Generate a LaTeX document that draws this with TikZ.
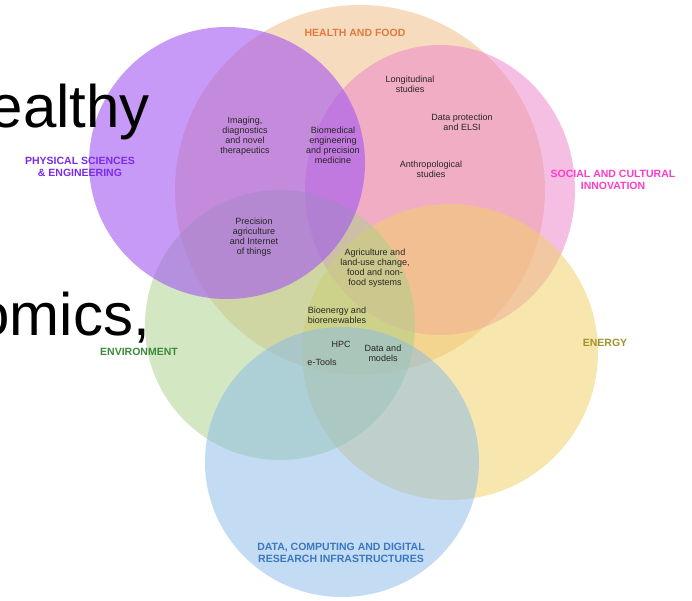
\documentclass[tikz,border=0pt]{standalone}
\usepackage{fontspec}
\setmainfont{Liberation Sans}

\definecolor{healthfill}{RGB}{241,185,129}
\definecolor{socialfill}{RGB}{237,129,201}
\definecolor{energyfill}{RGB}{241,209,97}
\definecolor{envfill}{RGB}{169,209,137}
\definecolor{datafill}{RGB}{137,185,233}
\definecolor{physfill}{RGB}{162,87,242}

\definecolor{healthtext}{RGB}{224,122,60}
\definecolor{socialtext}{RGB}{255,60,200}
\definecolor{energytext}{RGB}{160,146,40}
\definecolor{envtext}{RGB}{58,138,58}
\definecolor{datatext}{RGB}{58,120,192}
\definecolor{phystext}{RGB}{123,43,232}

\tikzset{
  area/.style={fill=#1, fill opacity=0.5},
  topic/.style={font=\fontsize{10.5}{11.5}\selectfont\bfseries, align=center, inner sep=0pt},
  theme/.style={font=\fontsize{9}{10}\selectfont, align=center, inner sep=0pt, text=black!85},
  slidetext/.style={font=\fontsize{60}{60}\selectfont, anchor=base east, inner sep=0pt}
}

\begin{document}
\begin{tikzpicture}[x=1pt,y=-1pt]
        \clip (0,0) rectangle (692,600);
        \fill [white] (0,0) rectangle (692,600);

        % Overlapping research areas
        \fill [area=healthfill] (360,190) ellipse (185 and 185);
        \fill [area=socialfill] (440,190) ellipse (135 and 145);
        \fill [area=energyfill] (450,352) ellipse (148 and 148);
        \fill [area=envfill] (280,325) ellipse (135 and 135);
        \fill [area=datafill] (342,462) ellipse (137 and 135);
        \fill [area=physfill, fill opacity=0.6] (227,163) ellipse (138 and 136);

        % Area labels
        \node [topic, text=healthtext] (health) at (355,33) {HEALTH AND FOOD};
        \node [topic, text=phystext] (phys) at (80,167) {PHYSICAL SCIENCES\\\& ENGINEERING};
        \node [topic, text=socialtext] (social) at (613,180) {SOCIAL AND CULTURAL\\INNOVATION};
        \node [topic, text=energytext] (energy) at (605,343) {ENERGY};
        \node [topic, text=envtext] (env) at (139,352) {ENVIRONMENT};
        \node [topic, text=datatext] (data) at (341,553) {DATA, COMPUTING AND DIGITAL\\RESEARCH INFRASTRUCTURES};

        % Themes in the overlaps
        \node [theme] (imaging) at (245,136) {Imaging,\\diagnostics\\and novel\\therapeutics};
        \node [theme] (biomed) at (333,145) {Biomedical\\engineering\\and precision\\medicine};
        \node [theme] (longit) at (410,84) {Longitudinal\\studies};
        \node [theme] (elsi) at (462,122) {Data protection\\and ELSI};
        \node [theme] (anthro) at (431,169) {Anthropological\\studies};
        \node [theme] (precision) at (254,237) {Precision\\agriculture\\and Internet\\of things};
        \node [theme] (agri) at (375,268) {Agriculture and\\land-use change,\\food and non-\\food systems};
        \node [theme, align=left] (bioenergy) at (337,315) {Bioenergy and\\biorenewables};
        \node [theme] (hpc) at (341,344) {HPC};
        \node [theme] (etools) at (322,362) {e-Tools};
        \node [theme] (models) at (383,353) {Data and\\models};

        % Slide text behind the figure
        \node [slidetext] (healthy) at (150,127) {ealthy};
        \node [slidetext] (omics) at (150,335) {omics,};
    \end{tikzpicture}
\end{document}
